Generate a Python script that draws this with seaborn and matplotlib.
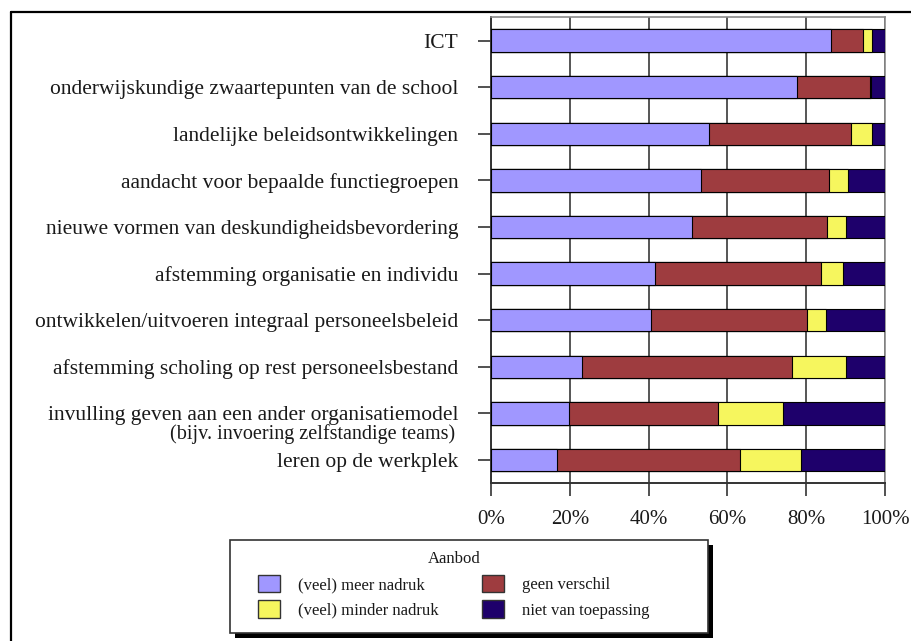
import matplotlib
matplotlib.use("Agg")
import matplotlib.pyplot as plt
from matplotlib.patches import Patch, Rectangle
from matplotlib.lines import Line2D
from matplotlib.ticker import PercentFormatter
import numpy as np
import pandas as pd
import seaborn as sns

# Topics (top to bottom)
categories = [
    "ICT",
    "onderwijskundige zwaartepunten van de school",
    "landelijke beleidsontwikkelingen",
    "aandacht voor bepaalde functiegroepen",
    "nieuwe vormen van deskundigheidsbevordering",
    "afstemming organisatie en individu",
    "ontwikkelen/uitvoeren integraal personeelsbeleid",
    "afstemming scholing op rest personeelsbestand",
    "invulling geven aan een ander organisatiemodel",
    "leren op de werkplek",
]
sub_label = "(bijv. invoering zelfstandige teams)"

# Shares per answer (percent)
meer_nadruk = [86.2, 77.6, 55.4, 53.2, 50.9, 41.5, 40.5, 23.2, 19.9, 16.7]
geen_verschil = [8.3, 18.6, 36.0, 32.7, 34.4, 42.2, 39.8, 53.1, 37.8, 46.6]
minder_nadruk = [2.3, 0.3, 5.2, 4.8, 4.7, 5.7, 4.7, 13.7, 16.5, 15.3]
niet_van_toepassing = [3.2, 3.5, 3.4, 9.3, 10.0, 10.6, 15.0, 10.0, 25.8, 21.4]

series_names = ["(veel) meer nadruk", "geen verschil", "(veel) minder nadruk", "niet van toepassing"]
series_colors = ["#a097ff", "#9e3c3f", "#f6f65e", "#1e006b"]
legend_title = "Aanbod"

df = pd.DataFrame({
    "categorie": categories,
    series_names[0]: meer_nadruk,
    series_names[1]: geen_verschil,
    series_names[2]: minder_nadruk,
    series_names[3]: niet_van_toepassing,
})
cum = df[series_names].cumsum(axis=1)

sns.set_style("white")
plt.rcParams["font.family"] = ["Liberation Serif", "DejaVu Serif"]
text_color = "#1a1a1a"
label_size = 15.5

W, H = 912, 641
fig = plt.figure(figsize=(W / 100, H / 100), dpi=100)
ax = fig.add_axes([491 / W, 1 - 483.3 / H, 394 / W, 466 / H])

# Stacked bars: draw cumulative totals from the widest down
for name, color in reversed(list(zip(series_names, series_colors))):
    sns.barplot(x=cum[name], y=df["categorie"], orient="h", color=color, saturation=1,
                width=0.48, edgecolor="black", linewidth=0.8, ax=ax, zorder=3)

ax.set_xlim(0, 100)
ax.set_ylim(len(categories) - 0.5, -0.5)
ax.set_xticks(np.arange(0, 101, 20))
ax.xaxis.set_major_formatter(PercentFormatter(decimals=0))
ax.set_xlabel("")
ax.set_ylabel("")

ax.grid(axis="x", color="#555555", linewidth=1.4, zorder=0)
ax.grid(axis="y", visible=False)
for side in ["left", "bottom"]:
    ax.spines[side].set_color("#333333")
    ax.spines[side].set_linewidth(1.4)
for side in ["top", "right"]:
    ax.spines[side].set_color("#8a8a8a")
    ax.spines[side].set_linewidth(1.2)

ax.tick_params(axis="y", length=9.5, width=1.2, color="#333333", pad=14,
               labelsize=label_size, labelcolor=text_color, left=True)
ax.tick_params(axis="x", length=9, width=1.2, color="#333333", pad=10,
               labelsize=15, labelcolor=text_color, bottom=True)

# Second line of the organisation-model label
ax.annotate(sub_label, xy=(0, 8), xycoords="data", xytext=(-26, -15),
            textcoords="offset points", ha="right", va="center",
            fontsize=14.5, color=text_color, annotation_clip=False)

# Legend: entries from matplotlib, box and drop shadow drawn in pixel space
handles = [Patch(facecolor=c, edgecolor="#333333", linewidth=1.0, label=n)
           for n, c in zip(series_names, series_colors)]
order = [0, 2, 1, 3]
leg = fig.legend([handles[i] for i in order], [series_names[i] for i in order],
                 title=legend_title, ncol=2, loc="upper left",
                 bbox_to_anchor=(258 / W, 1 - 551 / H),
                 fontsize=12, title_fontsize=12, borderaxespad=0, borderpad=0,
                 handlelength=1.3, handleheight=1.25, handletextpad=1.1,
                 labelspacing=0.45, columnspacing=2.6,
                 frameon=False, labelcolor=text_color)
leg.get_title().set_color(text_color)
leg.set_zorder(6)

box_x, box_top, box_w, box_h = 230, 540, 478, 93
fig.add_artist(Rectangle((box_x + 5, H - box_top - box_h - 5), box_w, box_h, transform=None,
                         facecolor="black", edgecolor="none", zorder=4))
fig.add_artist(Rectangle((box_x, H - box_top - box_h), box_w, box_h, transform=None,
                         facecolor="white", edgecolor="#333333", linewidth=1.2, zorder=5))

# Outer frame (left and top edges)
fig.add_artist(Line2D([11 / W, 11 / W], [0, 1 - 12 / H], transform=fig.transFigure,
                      color="black", linewidth=1.6))
fig.add_artist(Line2D([11 / W, 1], [1 - 12 / H, 1 - 12 / H], transform=fig.transFigure,
                      color="black", linewidth=1.6))

fig.savefig("out.png", dpi=100, facecolor="white")
